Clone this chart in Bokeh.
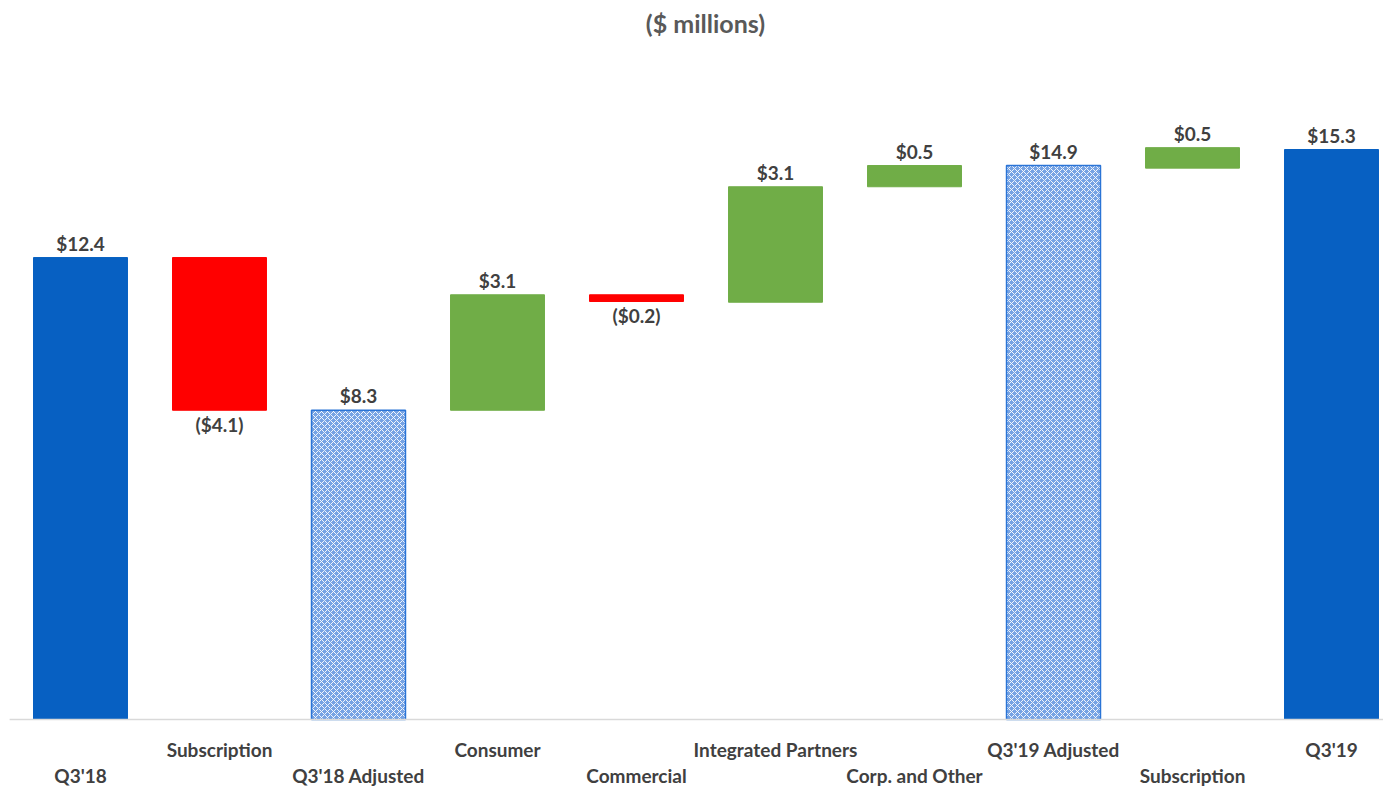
from bokeh.plotting import figure
from bokeh.models import ColumnDataSource, Label, Range1d
from bokeh.core.properties import value
from bokeh.embed import file_html
from bokeh.resources import INLINE

categories = ["Q3'18", "Subscription", "Q3'18 Adjusted", "Consumer", "Commercial",
              "Integrated Partners", "Corp. and Other", "Q3'19 Adjusted", "Subscription", "Q3'19"]
bar_bottom = [0, 8.3, 0, 8.3, 11.22, 11.2, 14.3, 0, 14.8, 0]
bar_top = [12.4, 12.4, 8.3, 11.4, 11.4, 14.3, 14.87, 14.87, 15.35, 15.3]
value_labels = ["$12.4", "($4.1)", "$8.3", "$3.1", "($0.2)", "$3.1", "$0.5", "$14.9", "$0.5", "$15.3"]
kinds = ["total", "neg", "adj", "pos", "neg", "pos", "pos", "adj", "pos", "total"]

colors = {"total": "#0760C2", "neg": "#FF0000", "pos": "#70AD47", "adj": "#76A3E4"}

FONT = "Lato"
TXT = "#404040"
FS = "19px"

p = figure(width=1383, height=786, output_backend="svg", toolbar_location=None,
           x_range=Range1d(-0.5755, 9.374), y_range=Range1d(-1.80, 19.30),
           min_border=0, outline_line_color=None)
p.xaxis.visible = False
p.yaxis.visible = False
p.xgrid.visible = False
p.ygrid.visible = False

xs = list(range(len(categories)))

def sub(kind):
    idx = [i for i in xs if kinds[i] == kind]
    return ColumnDataSource(dict(x=idx, b=[bar_bottom[i] for i in idx], t=[bar_top[i] for i in idx]))

for k in ["total", "neg", "pos"]:
    p.vbar(x="x", bottom="b", top="t", width=0.676, source=sub(k),
           fill_color=colors[k], line_color=colors[k], line_width=1)

p.vbar(x="x", bottom="b", top="t", width=0.676, source=sub("adj"),
       fill_color=colors["adj"], line_color="#2A74D6", line_width=1.5,
       hatch_pattern="x", hatch_color="white", hatch_scale=6, hatch_weight=1.0, hatch_alpha=0.9)

# baseline
p.segment(x0=[-0.51], y0=[0], x1=[9.374], y1=[0], line_color="#D9D9D9", line_width=1.5)

# value labels
pos_idx = [i for i in xs if kinds[i] != "neg"]
neg_idx = [i for i in xs if kinds[i] == "neg"]
p.text(x=pos_idx, y=[bar_top[i] for i in pos_idx], text=[value_labels[i] for i in pos_idx],
       text_align="center", text_baseline="bottom", y_offset=-3,
       text_font=value(FONT), text_font_size=FS, text_font_style="bold", text_color=TXT)
p.text(x=neg_idx, y=[bar_bottom[i] for i in neg_idx], text=[value_labels[i] for i in neg_idx],
       text_align="center", text_baseline="top", y_offset=3,
       text_font=value(FONT), text_font_size=FS, text_font_style="bold", text_color=TXT)

# category labels (staggered)
upper = [i for i in xs if i % 2 == 1]
lower = [i for i in xs if i % 2 == 0]
p.text(x=upper, y=[0] * len(upper), text=[categories[i] for i in upper],
       text_align="center", text_baseline="middle", y_offset=30,
       text_font=value(FONT), text_font_size=FS, text_font_style="bold", text_color=TXT)
p.text(x=lower, y=[0] * len(lower), text=[categories[i] for i in lower],
       text_align="center", text_baseline="middle", y_offset=56,
       text_font=value(FONT), text_font_size=FS, text_font_style="bold", text_color=TXT)

p.add_layout(Label(x=705, y=786 - 22, x_units="screen", y_units="screen", text="($ millions)",
                   text_align="center", text_baseline="middle", text_font=FONT,
                   text_font_size="25px", text_font_style="bold", text_color="#595959"))

open("out.html", "w").write(file_html(p, INLINE))
